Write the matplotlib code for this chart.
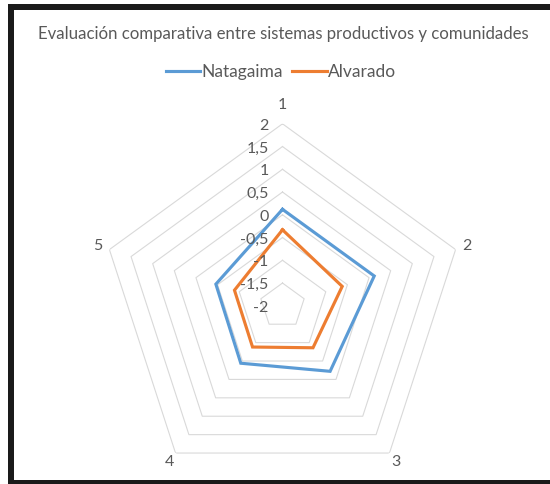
import numpy as np
import matplotlib
matplotlib.use("Agg")
import matplotlib.pyplot as plt
from matplotlib.patches import Rectangle
from matplotlib.transforms import offset_copy

categories = ["1", "2", "3", "4", "5"]
natagaima = [0.12, 0.12, -0.22, -0.44, -0.46]
alvarado = [-0.33, -0.62, -0.86, -0.88, -0.89]
tick_values = [2, 1.5, 1, 0.5, 0, -0.5, -1, -1.5, -2]
tick_labels = ["2", "1,5", "1", "0,5", "0", "-0,5", "-1", "-1,5", "-2"]
title = "Evaluación comparativa entre sistemas productivos y comunidades"

plt.rcParams['font.family'] = ['Lato', 'DejaVu Sans']
W, H = 550, 484
fig = plt.figure(figsize=(W / 100, H / 100), dpi=100)
fig.patch.set_facecolor("white")

cx, cy, R = 282.5, H - 305.8, 182.0
ax = fig.add_axes([(cx - R) / W, (cy - R) / H, 2 * R / W, 2 * R / H], projection="polar")
ax.set_theta_offset(np.pi / 2)
ax.set_theta_direction(-1)
ax.set_ylim(-2, 2)
ax.grid(False)
ax.spines['polar'].set_visible(False)
ax.set_xticks([])
ax.set_yticks([])
ax.patch.set_alpha(0)

n = len(categories)
theta = np.linspace(0, 2 * np.pi, n, endpoint=False)
theta_c = np.append(theta, theta[0])

grid_color = "#D9D9D9"
for v in tick_values:
    if v > -2:
        ax.plot(theta_c, [v] * (n + 1), color=grid_color, lw=0.8, zorder=1)

ax.plot(theta_c, natagaima + natagaima[:1], color="#5B9BD5", lw=2.25, zorder=3,
        label="Natagaima", solid_joinstyle="miter")
ax.plot(theta_c, alvarado + alvarado[:1], color="#ED7D31", lw=2.25, zorder=3,
        label="Alvarado", solid_joinstyle="miter")

txt_color = "#595959"
tr = offset_copy(ax.transData, fig=fig, x=-14, y=-2, units="dots")
for v, lab in zip(tick_values, tick_labels):
    ax.text(0, v, lab, transform=tr, ha="right", va="center", fontsize=11.5,
            color=txt_color, clip_on=False)

label_r = [2.42, 2.27, 2.24, 2.24, 2.27]
for t, lab, r in zip(theta, categories, label_r):
    ax.text(t, r, lab, ha="center", va="center", fontsize=11.5, color=txt_color,
            clip_on=False)

fig.text(283 / W, 1 - 34 / H, title, ha="center", va="center", fontsize=12.1,
         color=txt_color)
handles, labels = ax.get_legend_handles_labels()
fig.legend(handles, labels, loc="center", bbox_to_anchor=(281 / W, 1 - 72 / H),
           ncol=2, frameon=False, fontsize=12.5, handlelength=2.0,
           handletextpad=0.08, columnspacing=0.5, labelcolor=txt_color)

# black frame
border = "#1a1a1a"
fig.add_artist(Rectangle((8 / W, 1 - 10 / H), 1 - 8 / W, 6 / H, transform=fig.transFigure,
                         facecolor=border, edgecolor="none"))
fig.add_artist(Rectangle((8 / W, 0), 6 / W, 1 - 4 / H, transform=fig.transFigure,
                         facecolor=border, edgecolor="none"))
fig.add_artist(Rectangle((8 / W, 0), 1 - 8 / W, 4 / H, transform=fig.transFigure,
                         facecolor=border, edgecolor="none"))

fig.savefig("out.png", dpi=100, facecolor="white")
